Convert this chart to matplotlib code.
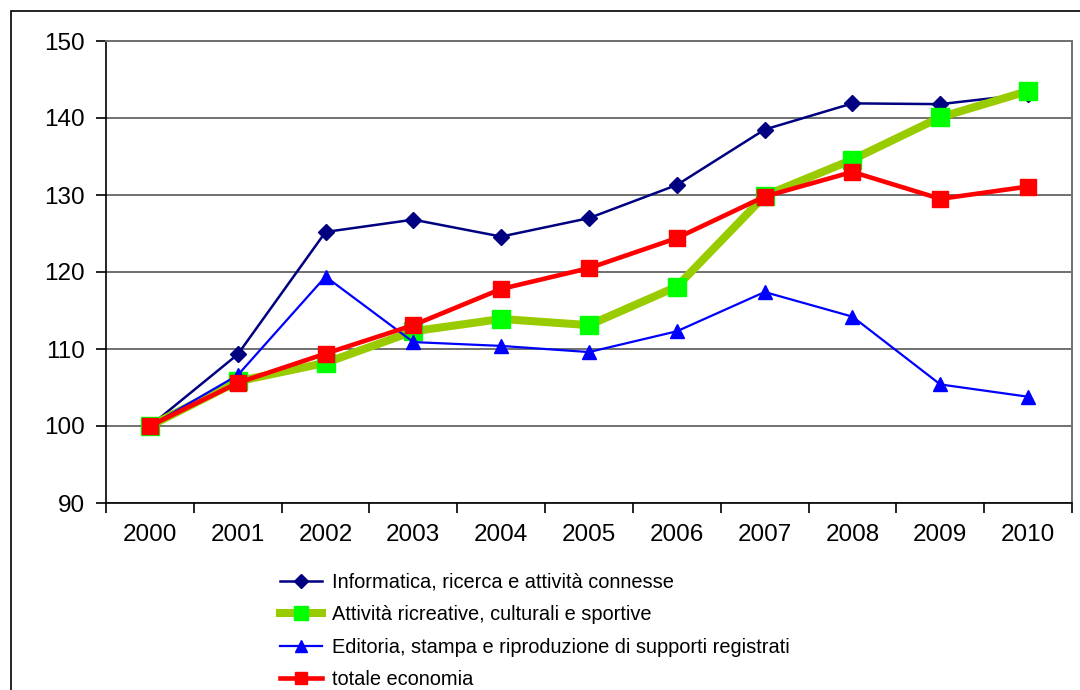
import matplotlib
matplotlib.use("Agg")
import matplotlib.pyplot as plt
from matplotlib.patches import Rectangle

plt.rcParams['font.family'] = ['Liberation Sans', 'DejaVu Sans']

years = ['2000', '2001', '2002', '2003', '2004', '2005', '2006', '2007', '2008', '2009', '2010']

informatica = [100.0, 109.3, 125.2, 126.8, 124.6, 127.0, 131.3, 138.5, 141.9, 141.8, 143.1]
ricreative = [100.0, 105.8, 108.2, 112.3, 113.9, 113.1, 118.1, 129.9, 134.6, 140.1, 143.5]
editoria = [100.0, 106.6, 119.4, 110.9, 110.4, 109.6, 112.3, 117.4, 114.2, 105.4, 103.8]
totale = [100.0, 105.6, 109.4, 113.1, 117.8, 120.5, 124.4, 129.8, 133.0, 129.5, 131.1]

labels = [
    'Informatica, ricerca e attività connesse',
    'Attività ricreative, culturali e sportive',
    'Editoria, stampa e riproduzione di supporti registrati',
    'totale economia',
]

W, H = 1080, 690
fig = plt.figure(figsize=(W / 100, H / 100), dpi=100)
fig.patch.set_facecolor('white')

# outer chart frame
fig.patches.append(Rectangle((11 / W, -0.05), 1.2, 1 - 11 / H + 0.05,
                             transform=fig.transFigure, fill=False,
                             edgecolor='black', linewidth=1.2, zorder=0))

ax = fig.add_axes([106 / W, 1 - 503 / H, (1072 - 106) / W, (503 - 41) / H])
x = list(range(len(years)))

ax.plot(x, informatica, color='#000080', lw=1.8, marker='D', ms=8.5,
        mfc='#000080', mec='#000080', label=labels[0], zorder=3)
ax.plot(x, ricreative, color='#99cc00', lw=5.8, marker='s', ms=12.5,
        mfc='#00ff00', mec='#00ff00', label=labels[1], zorder=4)
ax.plot(x, editoria, color='#0000ff', lw=1.6, marker='^', ms=10,
        mfc='#0000ff', mec='#0000ff', label=labels[2], zorder=5)
ax.plot(x, totale, color='#ff0000', lw=3.3, marker='s', ms=11,
        mfc='#ff0000', mec='#ff0000', label=labels[3], zorder=6)

ax.set_xlim(-0.5, len(years) - 0.5)
ax.set_ylim(90, 150)
ax.set_yticks(range(90, 151, 10))
ax.set_xticks(x)
ax.set_xticklabels(years)
ax.set_xticks([i - 0.5 for i in range(len(years) + 1)], minor=True)
ax.tick_params(axis='x', which='major', length=0, pad=15, labelsize=17.5)
ax.tick_params(axis='x', which='minor', length=7, width=1.2, color='black')
ax.tick_params(axis='y', length=7, width=1.2, pad=8, labelsize=17.5, color='black')

ax.yaxis.grid(True, color='#707070', lw=1.4)
ax.set_axisbelow(True)
for s in ('top', 'right'):
    ax.spines[s].set_color('#707070')
    ax.spines[s].set_linewidth(1.4)
for s in ('left', 'bottom'):
    ax.spines[s].set_color('black')
    ax.spines[s].set_linewidth(1.2)

leg = fig.legend(loc='upper left', bbox_to_anchor=(280 / W, 1 - 572.5 / H),
                 frameon=False, fontsize=14.4, borderpad=0, borderaxespad=0,
                 handlelength=2.1, handletextpad=0.5, labelspacing=0.68,
                 markerscale=0.8, numpoints=1)

fig.savefig('out.png', dpi=100, facecolor='white')
